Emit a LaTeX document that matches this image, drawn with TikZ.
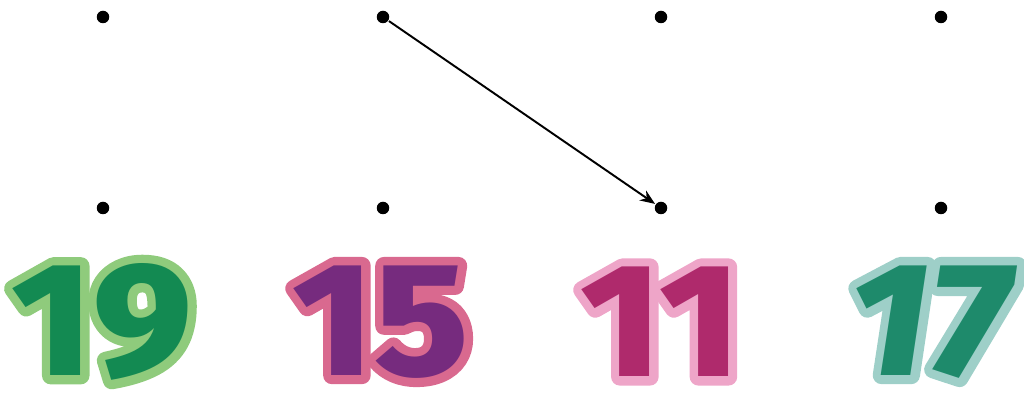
\documentclass[tikz,border=0pt]{standalone}
\usepackage{fontspec}
\usetikzlibrary{arrows.meta}
\newfontfamily\numfont{Fira Sans}[BoldFont={* ExtraBold},BoldItalicFont={* ExtraBold Italic},FakeStretch=1.07]
\definecolor{leafdark}{HTML}{138A52}
\definecolor{leaflight}{HTML}{8FCB7C}
\definecolor{plumdark}{HTML}{762B7E}
\definecolor{plumlight}{HTML}{D9698F}
\definecolor{rosedark}{HTML}{AF2A6C}
\definecolor{roselight}{HTML}{EEA5C8}
\definecolor{tealdark}{HTML}{1E8A6B}
\definecolor{teallight}{HTML}{9ECFC8}
% digits with a wide light rim
\newcommand\rimmed[3]{%
  \makebox[0pt][l]{\special{pdf:literal direct q 1 j 1 J 10 w 1 Tr}\textcolor{#1}{#3}\special{pdf:literal direct Q}}%
  \textcolor{#2}{#3}}

\begin{document}
\begin{tikzpicture}[line width=1.1pt,>=Stealth,
  dot/.style={circle,fill=black,inner sep=0pt,minimum size=0.25cm},
  num/.style={font=\numfont\bfseries\fontsize{92}{92}\selectfont,inner sep=0pt}]
\useasboundingbox (0,0) rectangle (20.48,7.92);
% ---- top row of dots ----
\node[dot] (t1) at (2.06,7.58) {};
\node[dot] (t2) at (7.66,7.58) {};
\node[dot] (t3) at (13.22,7.58) {};
\node[dot] (t4) at (18.82,7.58) {};
% ---- bottom row of dots ----
\node[dot] (b1) at (2.06,3.76) {};
\node[dot] (b2) at (7.66,3.76) {};
\node[dot] (b3) at (13.22,3.76) {};
\node[dot] (b4) at (18.82,3.76) {};
% ---- arrow ----
\draw[->,>={Stealth[length=3mm,width=2.4mm]}] (t2) -- (b3);
% ---- numbers ----
\node[num] (n19) at (2.04,1.48) {\rimmed{leaflight}{leafdark}{19}};
\node[num] (n15) at (7.62,1.48) {\rimmed{plumlight}{plumdark}{15}};
\node[num] (n11) at (13.22,1.48) {\rimmed{roselight}{rosedark}{11}};
\node[num] (n17) at (18.6,1.48) {\rimmed{teallight}{tealdark}{\itshape 17}};
\end{tikzpicture}
\end{document}
